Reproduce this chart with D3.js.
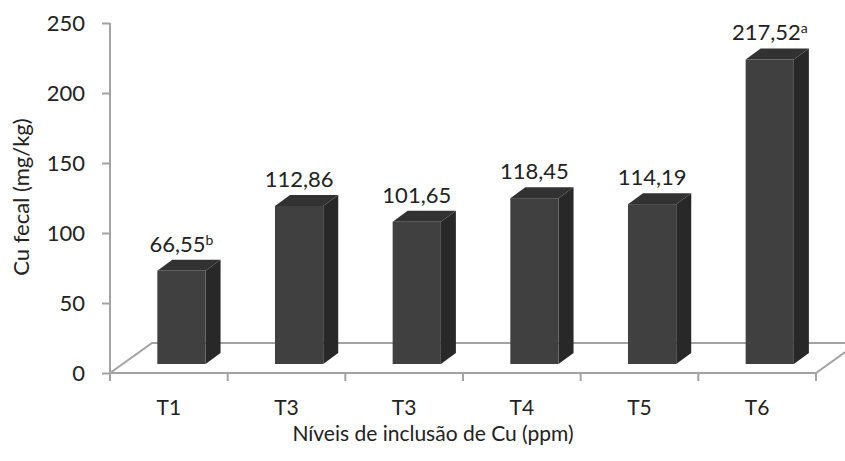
<!DOCTYPE html>
<html>
<head>
<meta charset="utf-8">
<script src="https://cdn.jsdelivr.net/npm/d3@7"></script>
<style>
  body { margin: 0; background: #fff; }
  text { font-family: Lato, "Open Sans", sans-serif; fill: #222; }
</style>
</head>
<body>
<div id="chart"></div>
<script>
// data
const categories = ["T1", "T3", "T3", "T4", "T5", "T6"];
const values = [66.55, 112.86, 101.65, 118.45, 114.19, 217.52];
const valueLabels = ["66,55", "112,86", "101,65", "118,45", "114,19", "217,52"];
const letters = ["b", "", "", "", "", "a"];
const yTicks = [0, 50, 100, 150, 200, 250];

// sizes
const WIDTH = 845, HEIGHT = 461;
const AXIS_X = 110, AXIS_RIGHT = 816;
const Y_ZERO = 373, Y_TOP = 23;
const FLOOR_DX = 42, FLOOR_DY = 30;     // depth of the floor
const BAR_DX = 15, BAR_DY = 11;         // depth of each bar
const BAR_LIFT = 9;                     // bars stand a bit back on the floor
const BAR_SHIFT = BAR_LIFT * FLOOR_DX / FLOOR_DY;
const FRONT = "#404040", SIDE = "#282828", TOP = "#323232";
const LINE = "#a3a3a3";

const svg = d3.select("#chart").append("svg")
    .attr("width", WIDTH)
    .attr("height", HEIGHT);

const x = d3.scaleBand()
    .domain(d3.range(categories.length))
    .range([AXIS_X, AXIS_RIGHT])
    .paddingInner(0).paddingOuter(0);

const y = d3.scaleLinear()
    .domain([0, 250])
    .range([Y_ZERO, Y_TOP]);

const barW = x.bandwidth() * 0.41;

// floor (3d base)
const floor = svg.append("g").attr("stroke", LINE).attr("stroke-width", 2).attr("fill", "none");
floor.append("path")
    .attr("d", `M${AXIS_X},${Y_ZERO} L${AXIS_X + FLOOR_DX},${Y_ZERO - FLOOR_DY} L${AXIS_RIGHT + FLOOR_DX},${Y_ZERO - FLOOR_DY} L${AXIS_RIGHT},${Y_ZERO}`);

// y axis
const yAxis = svg.append("g")
    .attr("transform", `translate(${AXIS_X},0)`)
    .call(d3.axisLeft(y).tickValues(yTicks).tickSize(8).tickPadding(17).tickFormat(d3.format("d")));
yAxis.select(".domain").remove();
yAxis.selectAll(".tick line").attr("stroke", LINE).attr("stroke-width", 2);
yAxis.selectAll(".tick text").style("font-size", "22px").attr("fill", "#222");

svg.append("line")
    .attr("x1", AXIS_X).attr("x2", AXIS_X)
    .attr("y1", y(250)).attr("y2", Y_ZERO + 8)
    .attr("stroke", LINE).attr("stroke-width", 2);

// x axis: front edge, ticks at band edges, labels in the middle
svg.append("line")
    .attr("x1", AXIS_X).attr("x2", AXIS_RIGHT)
    .attr("y1", Y_ZERO).attr("y2", Y_ZERO)
    .attr("stroke", LINE).attr("stroke-width", 2);

svg.append("g").selectAll("line")
    .data(d3.range(categories.length + 1))
    .join("line")
    .attr("x1", i => AXIS_X + i * x.step())
    .attr("x2", i => AXIS_X + i * x.step())
    .attr("y1", Y_ZERO).attr("y2", Y_ZERO + 8)
    .attr("stroke", LINE).attr("stroke-width", 2);

svg.append("g").selectAll("text")
    .data(categories)
    .join("text")
    .attr("x", (d, i) => x(i) + x.bandwidth() / 2)
    .attr("y", 415)
    .attr("text-anchor", "middle")
    .style("font-size", "21px")
    .text(d => d);

// bars
const bars = svg.append("g").selectAll("g")
    .data(values)
    .join("g");

const frontX = i => x(i) + x.bandwidth() / 2 + BAR_SHIFT - barW / 2;
const base = y(0) - BAR_LIFT;
const topY = v => y(v) - BAR_LIFT;

bars.append("path")
    .attr("fill", SIDE)
    .attr("d", (v, i) => {
        let fx = frontX(i) + barW, t = topY(v);
        return `M${fx},${t} L${fx + BAR_DX},${t - BAR_DY} L${fx + BAR_DX},${base - BAR_DY} L${fx},${base} Z`;
    });

bars.append("path")
    .attr("fill", TOP)
    .attr("d", (v, i) => {
        let fx = frontX(i), t = topY(v);
        return `M${fx},${t} L${fx + BAR_DX},${t - BAR_DY} L${fx + barW + BAR_DX},${t - BAR_DY} L${fx + barW},${t} Z`;
    });

bars.append("rect")
    .attr("fill", FRONT)
    .attr("x", (v, i) => frontX(i))
    .attr("y", v => topY(v))
    .attr("width", barW)
    .attr("height", v => base - topY(v));

// value labels with significance letters
const labels = bars.append("text")
    .attr("x", (v, i) => frontX(i) + barW / 2)
    .attr("y", v => topY(v) - BAR_DY - 8)
    .attr("text-anchor", "middle")
    .style("font-size", "22px");

labels.append("tspan").text((v, i) => valueLabels[i]);
labels.append("tspan")
    .attr("dy", "-0.5em")
    .style("font-size", "14px")
    .text((v, i) => letters[i]);

// axis titles
svg.append("text")
    .attr("transform", `translate(29,197) rotate(-90)`)
    .attr("text-anchor", "middle")
    .style("font-size", "22px")
    .text("Cu fecal (mg/kg)");

svg.append("text")
    .attr("x", 433)
    .attr("y", 441)
    .attr("text-anchor", "middle")
    .style("font-size", "21px")
    .text("Níveis de inclusão de Cu (ppm)");
</script>
</body>
</html>
